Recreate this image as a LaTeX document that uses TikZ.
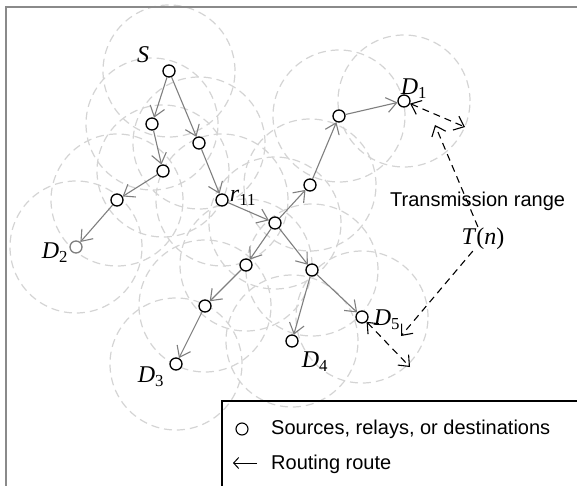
\documentclass[tikz,border=0pt]{standalone}
\usepackage{fontspec}
\setmainfont{Liberation Serif}
\newfontfamily\arialf{Liberation Sans}
\usetikzlibrary{arrows.meta}
\definecolor{rangec}{HTML}{D4D4D4}
\definecolor{routec}{HTML}{7F7F7F}
\definecolor{framec}{HTML}{8A8A8A}
\tikzset{
 dev/.style={circle, draw=black, fill=white, line width=1.3pt, minimum size=12pt, inner sep=0pt},
 route/.style={draw=routec, line width=1.1pt, -{Straight Barb[length=10pt,width=15pt]}},
 txrange/.style={draw=rangec, line width=1.2pt, dash pattern=on 8pt off 5pt},
 trboth/.style={draw=black, line width=1.1pt, dash pattern=on 7pt off 5pt, {Straight Barb[length=9pt,width=15pt]}-{Straight Barb[length=9pt,width=15pt]}},
 trone/.style={draw=black, line width=1.1pt, dash pattern=on 7pt off 5pt, -{Straight Barb[length=9pt,width=15pt]}},
 lbl/.style={font=\fontsize{24}{26}\selectfont, inner sep=0pt},
 txt/.style={font=\arialf\fontsize{20}{24}\selectfont, inner sep=0pt, anchor=base west}
}
\begin{document}
\begin{tikzpicture}[x=1pt,y=-1pt]
\useasboundingbox (0,0) rectangle (577,486);
% positions
\coordinate (pS) at (169,71);
\coordinate (p1) at (152,124);
\coordinate (p2) at (199,143);
\coordinate (p3) at (163,171);
\coordinate (p4) at (117,200);
\coordinate (pD2) at (76,247);
\coordinate (pr) at (222,200);
\coordinate (ph) at (275,223);
\coordinate (p6) at (310,185);
\coordinate (p7) at (339,116);
\coordinate (pD1) at (404,101);
\coordinate (p8) at (246,265);
\coordinate (p9) at (205,306);
\coordinate (pD3) at (176,364);
\coordinate (p10) at (312,270);
\coordinate (pD4) at (292,341);
\coordinate (pD5) at (362,317);
% transmission ranges
\foreach \c in {pS,p1,p2,p3,p4,pD2,pr,ph,p6,p7,pD1,p8,p9,pD3,p10,pD4,pD5}
  \draw[txrange] (\c) circle[radius=66pt];
% frame
\draw[framec, line width=2pt] (6,486) -- (6,7) -- (577,7);
% nodes
\node[dev] (S) at (pS) {};
\node[dev] (n1) at (p1) {};
\node[dev] (n2) at (p2) {};
\node[dev] (n3) at (p3) {};
\node[dev] (n4) at (p4) {};
\node[dev, draw=routec] (D2) at (pD2) {};
\node[dev] (r11) at (pr) {};
\node[dev] (h) at (ph) {};
\node[dev] (n6) at (p6) {};
\node[dev] (n7) at (p7) {};
\node[dev] (D1) at (pD1) {};
\node[dev] (n8) at (p8) {};
\node[dev] (n9) at (p9) {};
\node[dev] (D3) at (pD3) {};
\node[dev] (n10) at (p10) {};
\node[dev] (D4) at (pD4) {};
\node[dev] (D5) at (pD5) {};
% routes
\draw[route] (S) -- (n1);
\draw[route] (S) -- (n2);
\draw[route] (n1) -- (n3);
\draw[route] (n3) -- (n4);
\draw[route] (n4) -- (D2);
\draw[route] (n2) -- (r11);
\draw[route] (r11) -- (h);
\draw[route] (h) -- (n6);
\draw[route] (n6) -- (n7);
\draw[route] (n7) -- (D1);
\draw[route] (h) -- (n8);
\draw[route] (n8) -- (n9);
\draw[route] (n9) -- (D3);
\draw[route] (h) -- (n10);
\draw[route] (n10) -- (D4);
\draw[route] (n10) -- (D5);
% labels
\node[lbl] (lS) at (143,55) {\textit{S}};
\node[lbl] (lr) at (243,198) {\textit{r}\textsubscript{11}};
\node[lbl] (lD1) at (414,89) {\textit{D}\textsubscript{1}};
\node[lbl] (lD2) at (55,253) {\textit{D}\textsubscript{2}};
\node[lbl] (lD3) at (151,377) {\textit{D}\textsubscript{3}};
\node[lbl] (lD4) at (315,362) {\textit{D}\textsubscript{4}};
\node[lbl] (lD5) at (387,320) {\textit{D}\textsubscript{5}};
% transmission range
\node[txt] (tr) at (390,207) {Transmission range};
\node[lbl, inner sep=1pt] (T) at (483,239) {\textit{T}(\textit{n})};
\coordinate (e1) at (465,127);
\coordinate (e2) at (435,125);
\coordinate (e3) at (401,336);
\coordinate (e4) at (410,367);
\draw[trboth] (D1) -- (e1);
\draw[trone] (T) -- (e2);
\draw[trone] (T) -- (e3);
\draw[trboth] (D5) -- (e4);
% legend
\draw[black, line width=1.3pt] (222,486) -- (222,401) -- (577,401);
\node[dev, line width=1.1pt] (lg) at (242,429) {};
\node[txt] (lt1) at (271,434) {Sources, relays, or destinations};
\coordinate (la1) at (257,463);
\coordinate (la2) at (233,463);
\draw[black, line width=1pt, -{Straight Barb[length=5pt,width=11pt]}] (la1) -- (la2);
\node[txt] (lt2) at (271,469) {Routing route};
\end{tikzpicture}
\end{document}
